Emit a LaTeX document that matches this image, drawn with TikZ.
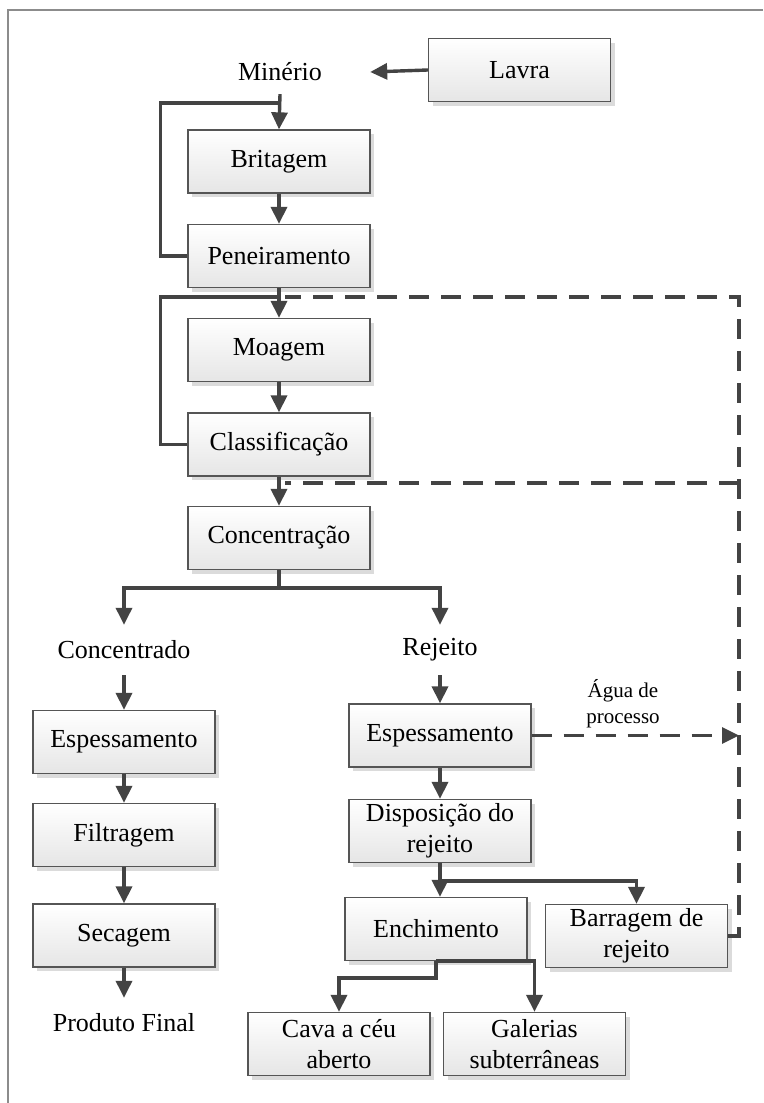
\documentclass[tikz,border=0pt]{standalone}
\usepackage{fontspec}
\setmainfont{Liberation Serif}
\usetikzlibrary{arrows.meta,shadows}
\definecolor{ink}{HTML}{434343}
\definecolor{edge}{HTML}{555555}
\definecolor{framegray}{HTML}{8C8C8C}
\tikzset{
  every node/.style={font=\fontsize{26}{31}\selectfont},
  box/.style={draw=edge, line width=1.3pt, top color=white, bottom color=black!10,
    minimum width=182pt, minimum height=63pt, inner sep=0pt, align=center,
    general shadow={fill=black!14, shadow xshift=4pt, shadow yshift=-4pt}},
  lbl/.style={inner sep=0pt, minimum height=50pt},
  tip/.style={-{Triangle[length=17pt,width=16pt]}},
  flow/.style={draw=ink, line width=3.4pt, tip},
  link/.style={draw=ink, line width=3.4pt},
  water/.style={draw=ink, line width=3.2pt, dash pattern=on 20pt off 12pt},
}
\begin{document}
\begin{tikzpicture}[x=1pt,y=-1pt]
\useasboundingbox (0,0) rectangle (763,1103);

% page frame
\draw[framegray, line width=2pt] (8,1103) -- (8,10) -- (763,10);

% main line
\node[box] (lavra) at (519.5,70) {Lavra};
\node[lbl, minimum height=44pt, minimum width=180pt] (min) at (280,72) {Minério};
\node[box] (brit) at (279,161.5) {Britagem};
\node[box] (pen)  at (279,256) {Peneiramento};
\node[box] (moa)  at (279,350) {Moagem};
\node[box] (cla)  at (279,444.5) {Classificação};
\node[box] (conc) at (279,538) {Concentração};

% concentrate branch
\node[lbl] (cdo) at (124,650) {Concentrado};
\node[box] (esp1) at (124,742) {Espessamento};
\node[box] (fil)  at (124,835) {Filtragem};
\node[box] (sec)  at (124,935.5) {Secagem};
\node[lbl] (prod) at (124,1023) {Produto Final};

% tailings branch
\node[lbl] (rej) at (440,650) {Rejeito};
\node[box] (esp2) at (440,735.5) {Espessamento};
\node[box] (disp) at (440,831) {Disposição do\\rejeito};
\node[box] (ench) at (436,929) {Enchimento};
\node[box] (barr) at (636.5,936) {Barragem de\\rejeito};
\node[box] (cava) at (339,1044) {Cava a céu\\aberto};
\node[box] (gal)  at (534.5,1044) {Galerias\\subterrâneas};
\node[align=center, font=\fontsize{21}{26}\selectfont] (agua) at (623,704) {Água de\\processo};

% junction points
\coordinate (j1) at (279,103);
\coordinate (j2) at (279,297);
\coordinate (j3) at (279,483);
\coordinate (r1) at (739,297);
\coordinate (r2) at (739,483);

% crushing and screening
\draw[flow] (lavra.west) -- (min.east);
\draw[flow] (min.south) -- (brit.north);
\draw[flow] (brit) -- (pen);
\draw[link] (pen.west) -- ++(-27,0) |- (j1);

% grinding and classification
\draw[flow] (pen) -- (moa);
\draw[flow] (moa) -- (cla);
\draw[link] (cla.west) -- ++(-27,0) |- (j2);
\draw[flow] (cla) -- (conc);

% concentration split
\draw[flow] (conc.south) -- ++(0,18) -| (cdo.north);
\draw[flow] (conc.south) -- ++(0,18) -| (rej.north);

% concentrate route
\draw[flow] (cdo.south) -- (esp1.north);
\draw[flow] (esp1) -- (fil);
\draw[flow] (fil) -- (sec);
\draw[flow] (sec.south) -- (prod.north);

% tailings route
\draw[flow] (rej.south) -- (esp2.north);
\draw[flow] (esp2) -- (disp);
\draw[flow] (disp.south) -- (disp.south |- ench.north);
\draw[flow] (disp.south) -- ++(0,18) -| (barr.north);
\draw[flow] (ench.south) -- ++(0,17) -| (cava.north);
\draw[flow] (ench.south) -| (gal.north);

% process water return
\draw[water, tip] (esp2.east) -- (esp2.east -| r1);
\draw[water] (barr.east) -- (barr.east -| r1) -- (r1) -- ([xshift=6pt]j2);
\draw[water] (r2) -- ([xshift=6pt]j3);
\end{tikzpicture}
\end{document}
